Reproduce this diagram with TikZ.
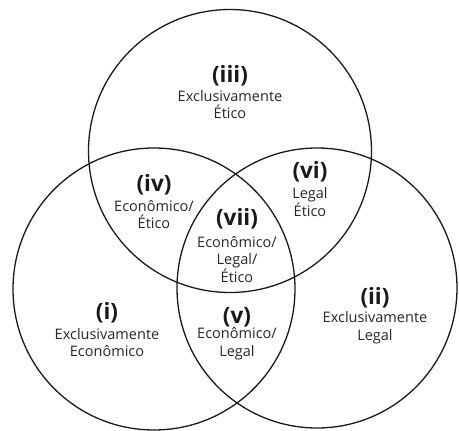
\documentclass[tikz,border=0pt]{standalone}
\usepackage{fontspec}
\setmainfont{Open Sans}
\begin{document}
\begin{tikzpicture}[x=1pt,y=-1pt,
  ring/.style={draw=black!90, line width=1.3pt},
  head/.style={font=\fontsize{22.5}{24}\selectfont\bfseries, text=black!90, inner sep=0pt},
  body/.style={font=\fontsize{14.5}{17.8}\selectfont, text=black!85, align=center, inner sep=0pt}]
\useasboundingbox (0,0) rectangle (459,431);
% circles
\draw[ring] (230,151) circle[radius=141.5];
\draw[ring] (154,289) circle[radius=141];
\draw[ring] (317,288) circle[radius=140];
% (iii)
\node[head] (h3) at (230,76) {(iii)};
\node[body] (t3) at (230,104.5) {Exclusivamente\\Ético};
% (iv)
\node[head] (h4) at (154,185) {(iv)};
\node[body] (t4) at (154,214.5) {Econômico/\\Ético};
% (vi)
\node[head] (h6) at (310,172) {(vi)};
\node[body] (t6) at (310,202) {Legal\\Ético};
% (vii)
\node[head] (h7) at (237,219) {(vii)};
\node[body] (t7) at (237,259.5) {Econômico/\\Legal/\\Ético};
% (i)
\node[head] (h1) at (107,313) {(i)};
\node[body] (t1) at (107,342.5) {Exclusivamente\\Econômico};
% (v)
\node[head] (h5) at (237,317) {(v)};
\node[body] (t5) at (237,344) {Econômico/\\Legal};
% (ii)
\node[head] (h2) at (375,298) {(ii)};
\node[body] (t2) at (375,328) {Exclusivamente\\Legal};
\end{tikzpicture}
\end{document}
